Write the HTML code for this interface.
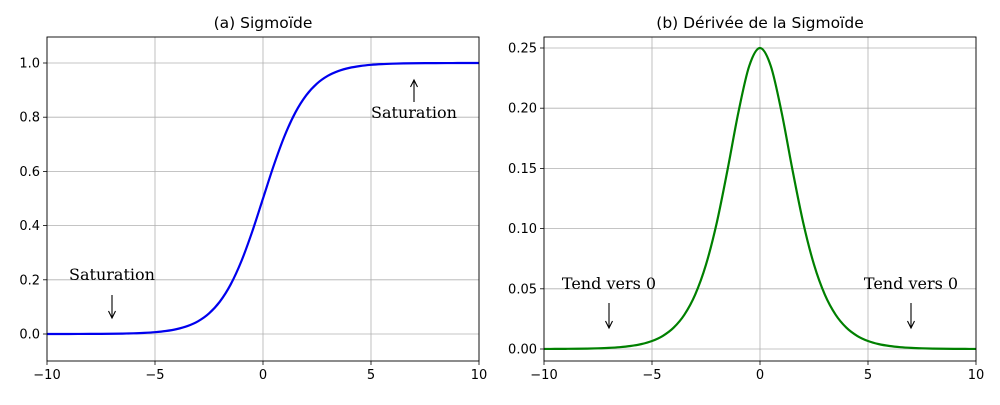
<!DOCTYPE html>
<html><head><meta charset="utf-8"><style>
body{margin:0;background:#fff;}
svg text{font-family:"DejaVu Sans","Liberation Sans",sans-serif;}
.serif{font-family:"DejaVu Serif","Liberation Serif",serif;}
</style></head><body>
<svg id="chart" width="1000" height="400"></svg>
<script>
const xValues=[-10,-9.5,-9,-8.5,-8,-7.5,-7,-6.5,-6,-5.5,-5,-4.5,-4,-3.5,-3,-2.5,-2,-1.5,-1,-0.5,0,0.5,1,1.5,2,2.5,3,3.5,4,4.5,5,5.5,6,6.5,7,7.5,8,8.5,9,9.5,10];
const sigmoidValues=[0.0000454,0.0000749,0.000123,0.000203,0.000335,0.000553,0.000911,0.0015,0.00247,0.00407,0.00669,0.011,0.018,0.0293,0.0474,0.0759,0.1192,0.1824,0.2689,0.3775,0.5,0.6225,0.7311,0.8176,0.8808,0.9241,0.9526,0.9707,0.982,0.989,0.99331,0.99593,0.99753,0.9985,0.999089,0.999447,0.999665,0.999797,0.999877,0.999925,0.999955];
const derivValues=[0.0000454,0.0000749,0.000123,0.000203,0.000335,0.000553,0.00091,0.0015,0.00247,0.00405,0.00665,0.0109,0.0177,0.0285,0.0452,0.0701,0.105,0.1491,0.1966,0.235,0.25,0.235,0.1966,0.1491,0.105,0.0701,0.0452,0.0285,0.0177,0.0109,0.00665,0.00405,0.00247,0.0015,0.00091,0.000553,0.000335,0.000203,0.000123,0.0000749,0.0000454];
const xTicks=[-10,-5,0,5,10];
const xTickLabels=["−10","−5","0","5","10"];
const yTicksA=[0,0.2,0.4,0.6,0.8,1.0];
const yTickLabelsA=["0.0","0.2","0.4","0.6","0.8","1.0"];
const yTicksB=[0,0.05,0.1,0.15,0.2,0.25];
const yTickLabelsB=["0.00","0.05","0.10","0.15","0.20","0.25"];

const NS="http://www.w3.org/2000/svg";
const svg=document.getElementById('chart');
function mk(tag,attrs,parent,text){const e=document.createElementNS(NS,tag);for(const k in attrs)e.setAttribute(k,attrs[k]);if(text!==undefined)e.textContent=text;(parent||svg).appendChild(e);return e;}

function panel(cfg){
  const g=mk('g',{});
  
  
  const {x0,x1,y0,y1}=cfg;
  const sx=v=>x0+(v-(-10))/20*(x1-x0);
  const sy=v=>cfg.yZero+(v)*cfg.yScale;
  // grid
  xTicks.forEach((t,i)=>{
    const l=mk('line',{x1:sx(t),x2:sx(t),y1:y0,y2:y1,stroke:'#b0b0b0','stroke-width':0.8},g);
    
    mk('line',{x1:sx(t),x2:sx(t),y1:y1,y2:y1+4,stroke:'#000','stroke-width':0.8},g);
    const tx=mk('text',{x:sx(t),y:y1+18,'text-anchor':'middle','font-size':13},g,xTickLabels[i]);
    
  });
  cfg.yTicks.forEach((t,i)=>{
    const l=mk('line',{x1:x0,x2:x1,y1:sy(t),y2:sy(t),stroke:'#b0b0b0','stroke-width':0.8},g);
    
    mk('line',{x1:x0-4,x2:x0,y1:sy(t),y2:sy(t),stroke:'#000','stroke-width':0.8},g);
    const tx=mk('text',{x:x0-7,y:sy(t)+4.5,'text-anchor':'end','font-size':13},g,cfg.yLabels[i]);
    
  });
  // curve (catmull-rom)
  const pts=xValues.map((x,i)=>[sx(x),sy(cfg.vals[i])]);
  let d='M'+pts[0][0]+','+pts[0][1];
  for(let i=0;i<pts.length-1;i++){
    const p0=pts[Math.max(0,i-1)],p1=pts[i],p2=pts[i+1],p3=pts[Math.min(pts.length-1,i+2)];
    d+=` C${p1[0]+(p2[0]-p0[0])/6},${p1[1]+(p2[1]-p0[1])/6} ${p2[0]-(p3[0]-p1[0])/6},${p2[1]-(p3[1]-p1[1])/6} ${p2[0]},${p2[1]}`;
  }
  const c=mk('path',{d:d,fill:'none',stroke:cfg.color,'stroke-width':2.2},g);
  
  const fr=mk('rect',{x:x0,y:y0,width:x1-x0,height:y1-y0,fill:'none',stroke:'#000','stroke-width':0.9},g);
  
  const ti=mk('text',{x:(x0+x1)/2,y:28,'text-anchor':'middle','font-size':15.5},g,cfg.title);
  
  cfg.notes.forEach(n=>{
    const t=mk('text',{x:n.tx,y:n.ty,'text-anchor':'middle','font-size':16,class:'serif'},g,n.text);
    
    mk('line',{x1:n.tx,x2:n.tx,y1:n.a1,y2:n.a2,stroke:'#000','stroke-width':1.1},g);
    const dir=n.a2>n.a1?-1:1;
    mk('path',{d:`M${n.tx-3.5},${n.a2+dir*7} L${n.tx},${n.a2} L${n.tx+3.5},${n.a2+dir*7}`,fill:'none',stroke:'#000','stroke-width':1.1},g);
  });
}
panel({name:'sigmoid-panel',curveName:'sigmoid-curve',x0:47,x1:479,y0:37,y1:361,yZero:334,yScale:-271,yTicks:yTicksA,yLabels:yTickLabelsA,vals:sigmoidValues,color:'#0000ee',title:'(a) Sigmoïde',
 notes:[{text:'Saturation',tx:112,ty:280,a1:295,a2:318},{text:'Saturation',tx:414,ty:118,a1:102,a2:80}]});
panel({name:'derivative-panel',curveName:'derivative-curve',x0:544,x1:976,y0:37,y1:361,yZero:349,yScale:-1204,yTicks:yTicksB,yLabels:yTickLabelsB,vals:derivValues,color:'#008000',title:'(b) Dérivée de la Sigmoïde',
 notes:[{text:'Tend vers 0',tx:609,ty:289,a1:303,a2:328},{text:'Tend vers 0',tx:911,ty:289,a1:303,a2:328}]});
</script>
</body></html>
